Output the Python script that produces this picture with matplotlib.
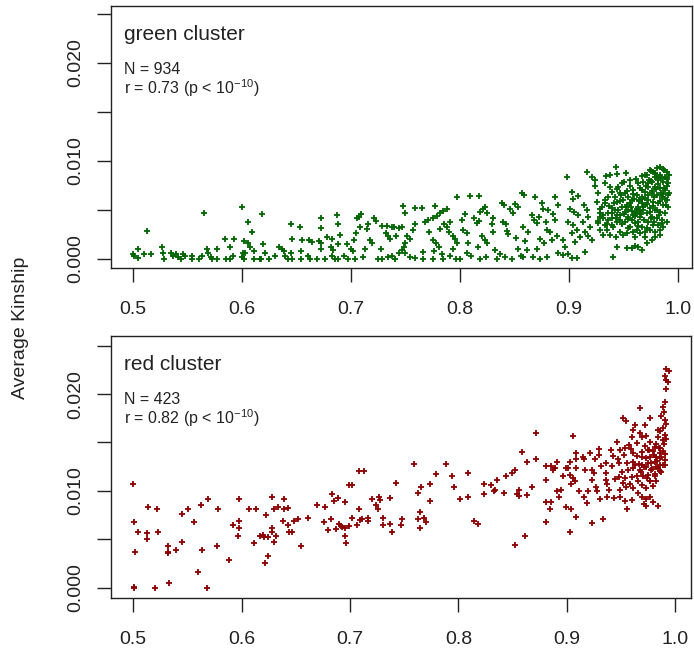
import matplotlib
matplotlib.use("Agg")
import matplotlib.pyplot as plt

# font tipo Arial come nel grafico originale
plt.rcParams['font.family'] = 'Liberation Sans'
plt.rcParams['mathtext.fontset'] = 'custom'
plt.rcParams['mathtext.rm'] = 'Liberation Sans'
plt.rcParams['mathtext.it'] = 'Liberation Sans:italic'

# ---- dati: cluster verde ----
green_x = [
    # 0.50 - 0.62
    0.4997, 0.5012, 0.5049, 0.5043, 0.5098, 0.5162, 0.5125, 0.5266,
    0.5278, 0.5287, 0.5352, 0.5367, 0.5397, 0.5413, 0.5437, 0.5459,
    0.5477, 0.5538, 0.5538, 0.5608, 0.5630, 0.5654, 0.5679, 0.5685,
    0.5715, 0.5722, 0.5770, 0.5770, 0.5847, 0.5856, 0.5893, 0.5893,
    0.5917, 0.5926, 0.6003, 0.6052, 0.6092, 0.6015, 0.6052, 0.6076,
    0.6113, 0.6006, 0.6027, 0.6000, 0.6021, 0.6107, 0.6168,
    # 0.62 - 0.75
    0.6180, 0.6195, 0.6211, 0.6174, 0.6247, 0.6302, 0.6339, 0.6364, 0.6388,
    0.6394, 0.6425, 0.6449, 0.6455, 0.6449, 0.6462, 0.6532, 0.6547, 0.6541,
    0.6541, 0.6608, 0.6614, 0.6639, 0.6623, 0.6685, 0.6706, 0.6724, 0.6724,
    0.6724, 0.6724, 0.6776, 0.6822, 0.6816, 0.6838, 0.6868, 0.6884, 0.6902,
    0.6884, 0.6822, 0.6884, 0.6939, 0.6960, 0.7000, 0.7021, 0.7030, 0.7043,
    0.7052, 0.7073, 0.7091, 0.7082, 0.7113, 0.7128, 0.7153, 0.7146, 0.7174,
    0.7189, 0.7214, 0.7226, 0.7244, 0.7275, 0.7287, 0.7327, 0.7318, 0.7342,
    0.7358, 0.7373, 0.7397, 0.7410, 0.7440, 0.7465, 0.7480, 0.7489, 0.7465,
    0.7281, 0.7342, 0.7379, 0.7403, 0.7440, 0.7036, 0.6975, 0.6761, 0.6853,
    # 0.75 - 0.88
    0.7496, 0.7588, 0.7649, 0.7771, 0.7976, 0.8092, 0.8172, 0.7817, 0.7848, 0.7884,
    0.7756, 0.7786, 0.7710, 0.7679, 0.7588, 0.7572, 0.7511, 0.7542, 0.7496, 0.7496,
    0.7542, 0.7588, 0.7658, 0.7664, 0.7719, 0.7756, 0.7780, 0.7811, 0.7762, 0.7832,
    0.7848, 0.7817, 0.7854, 0.7878, 0.7909, 0.7903, 0.7939, 0.7955, 0.7970, 0.7933,
    0.7909, 0.7964, 0.8016, 0.8046, 0.8031, 0.8062, 0.8077, 0.8062, 0.8098, 0.8129,
    0.8153, 0.8178, 0.8184, 0.8208, 0.8230, 0.8245, 0.8199, 0.8230, 0.8251, 0.8169,
    0.8184, 0.8239, 0.8291, 0.8300, 0.8306, 0.8322, 0.8367, 0.8337, 0.8383, 0.8404,
    0.8392, 0.8422, 0.8429, 0.8444, 0.8459, 0.8490, 0.8505, 0.8536, 0.8566, 0.8588,
    0.8514, 0.8536, 0.8557, 0.8582, 0.8612, 0.8597, 0.8575, 0.8627, 0.8658, 0.8689,
    0.8679, 0.8710, 0.8728, 0.8750, 0.8759, 0.8789, 0.8734, 0.8771, 0.8802, 0.8710,
    0.8673, 0.8796, 0.8734, 0.8474, 0.8413, 0.8000, 0.7756,
    # 0.88 - 0.99
    0.8979, 0.9162, 0.9214, 0.9239, 0.9428, 0.9376, 0.9437, 0.9520, 0.9337, 0.8872,
    0.8902, 0.8811, 0.8856, 0.8872, 0.8826, 0.8887, 0.8841, 0.8948, 0.8963, 0.8902,
    0.8948, 0.8994, 0.9025, 0.9070, 0.9147, 0.9031, 0.9040, 0.9086, 0.9009, 0.9049,
    0.9086, 0.8994, 0.9040, 0.9070, 0.9025, 0.9101, 0.9055, 0.9141, 0.9162, 0.9177,
    0.9132, 0.9193, 0.9147, 0.9171, 0.9208, 0.9239, 0.9269, 0.9254, 0.9300, 0.9285,
    0.9315, 0.9269, 0.9330, 0.9285, 0.9346, 0.9392, 0.9315, 0.9376, 0.9428, 0.9407,
    0.9437, 0.9407, 0.9437, 0.9529, 0.9575, 0.9606, 0.9636, 0.9667, 0.9713, 0.9758,
    0.9789, 0.9835, 0.9453, 0.9483, 0.9468, 0.9499, 0.9483, 0.9514, 0.9468, 0.9544,
    0.9514, 0.9560, 0.9590, 0.9529, 0.9606, 0.9575, 0.9590, 0.9560, 0.9621, 0.9636,
    0.9606, 0.9651, 0.9636, 0.9667, 0.9697, 0.9651, 0.9697, 0.9682, 0.9713, 0.9743,
    0.9774, 0.9804, 0.9835, 0.9865, 0.9896, 0.9918, 0.9881, 0.9835, 0.9789, 0.9820,
    0.9865, 0.9911, 0.9758, 0.9728, 0.9789, 0.9835, 0.9881, 0.9918, 0.9697, 0.9758,
    0.9804, 0.9850, 0.9896, 0.9728, 0.9774, 0.9820, 0.9865, 0.9911, 0.9697, 0.9743,
    0.9789, 0.9835, 0.9881, 0.9713, 0.9758, 0.9804, 0.9850, 0.9896, 0.9728, 0.9774,
    0.9820, 0.9865, 0.9743, 0.9789, 0.9835, 0.9392, 0.9422, 0.9361, 0.9437, 0.9392,
    0.9361, 0.9468, 0.9285, 0.9330, 0.9361, 0.9392, 0.9422, 0.9437, 0.9376, 0.9330,
    0.9529, 0.9544, 0.9575, 0.9606, 0.9538, 0.9636, 0.9651, 0.9667, 0.9667, 0.9682,
    0.9514, 0.9544, 0.9569, 0.9590, 0.9621, 0.9499, 0.9468,
]
green_y = [
    # 0.50 - 0.62
    0.00051, 0.00030, 0.00098, 0.00013, 0.00054, 0.00054, 0.00289, 0.00126,
    0.00058, 0.00003, 0.00064, 0.00030, 0.00051, 0.00017, 0.00003, 0.00051,
    0.00030, 0.00030, 0.00000, 0.00003, 0.00030, 0.00473, 0.00098, 0.00058,
    0.00024, 0.00000, 0.00098, 0.00003, 0.00200, 0.00003, 0.00126, 0.00003,
    0.00030, 0.00200, 0.00527, 0.00374, 0.00272, 0.00187, 0.00167, 0.00126,
    0.00085, 0.00064, 0.00064, 0.00017, 0.00003, 0.00003, 0.00003,
    # 0.62 - 0.75
    0.00459, 0.00153, 0.00064, 0.00003, 0.00003, 0.00030, 0.00126, 0.00105, 0.00085,
    0.00030, 0.00003, 0.00357, 0.00200, 0.00058, 0.00003, 0.00330, 0.00194, 0.00085,
    0.00003, 0.00030, 0.00194, 0.00177, 0.00003, 0.00003, 0.00187, 0.00422, 0.00313,
    0.00160, 0.00098, 0.00228, 0.00200, 0.00126, 0.00092, 0.00445, 0.00357, 0.00245,
    0.00153, 0.00030, 0.00003, 0.00030, 0.00153, 0.00098, 0.00078, 0.00194, 0.00262,
    0.00415, 0.00432, 0.00459, 0.00323, 0.00024, 0.00098, 0.00357, 0.00310, 0.00194,
    0.00167, 0.00415, 0.00388, 0.00003, 0.00098, 0.00337, 0.00337, 0.00262, 0.00235,
    0.00200, 0.00330, 0.00323, 0.00235, 0.00316, 0.00323, 0.00541, 0.00126, 0.00092,
    0.00003, 0.00024, 0.00030, 0.00003, 0.00058, 0.00003, 0.00003, 0.00003, 0.00003,
    # 0.75 - 0.88
    0.00473, 0.00517, 0.00517, 0.00541, 0.00629, 0.00643, 0.00643, 0.00473, 0.00493, 0.00513,
    0.00415, 0.00436, 0.00398, 0.00381, 0.00357, 0.00296, 0.00235, 0.00200, 0.00160, 0.00058,
    0.00024, 0.00007, 0.00075, 0.00003, 0.00279, 0.00194, 0.00160, 0.00126, 0.00085, 0.00051,
    0.00003, 0.00303, 0.00357, 0.00330, 0.00381, 0.00279, 0.00235, 0.00200, 0.00160, 0.00098,
    0.00030, 0.00003, 0.00398, 0.00459, 0.00296, 0.00262, 0.00160, 0.00058, 0.00030, 0.00415,
    0.00364, 0.00391, 0.00483, 0.00507, 0.00527, 0.00473, 0.00235, 0.00194, 0.00160, 0.00126,
    0.00003, 0.00024, 0.00357, 0.00415, 0.00279, 0.00092, 0.00051, 0.00003, 0.00575, 0.00551,
    0.00381, 0.00357, 0.00289, 0.00255, 0.00507, 0.00466, 0.00561, 0.00527, 0.00670, 0.00653,
    0.00211, 0.00098, 0.00030, 0.00024, 0.00092, 0.00187, 0.00330, 0.00279, 0.00449, 0.00636,
    0.00398, 0.00364, 0.00432, 0.00575, 0.00507, 0.00381, 0.00200, 0.00160, 0.00296, 0.00098,
    0.00024, 0.00024, 0.00003, 0.00003, 0.00024, 0.00003, 0.00003,
    # 0.88 - 0.99
    0.00833, 0.00891, 0.00840, 0.00806, 0.00935, 0.00857, 0.00867, 0.00874, 0.00847, 0.00636,
    0.00551, 0.00500, 0.00459, 0.00398, 0.00279, 0.00235, 0.00194, 0.00194, 0.00126, 0.00058,
    0.00041, 0.00051, 0.00007, 0.00007, 0.00075, 0.00687, 0.00609, 0.00643, 0.00507, 0.00483,
    0.00449, 0.00381, 0.00347, 0.00296, 0.00262, 0.00228, 0.00177, 0.00551, 0.00500, 0.00432,
    0.00381, 0.00330, 0.00279, 0.00235, 0.00194, 0.00745, 0.00670, 0.00585, 0.00534, 0.00466,
    0.00415, 0.00364, 0.00347, 0.00296, 0.00296, 0.00347, 0.00245, 0.00245, 0.00228, 0.00330,
    0.00381, 0.00024, 0.00126, 0.00109, 0.00109, 0.00133, 0.00126, 0.00092, 0.00160, 0.00194,
    0.00221, 0.00296, 0.00738, 0.00772, 0.00670, 0.00602, 0.00534, 0.00483, 0.00449, 0.00432,
    0.00381, 0.00330, 0.00279, 0.00262, 0.00228, 0.00602, 0.00704, 0.00806, 0.00653, 0.00534,
    0.00483, 0.00432, 0.00381, 0.00330, 0.00279, 0.00262, 0.00228, 0.00789, 0.00857, 0.00908,
    0.00891, 0.00925, 0.00942, 0.00915, 0.00891, 0.00857, 0.00840, 0.00857, 0.00840, 0.00806,
    0.00789, 0.00772, 0.00789, 0.00738, 0.00738, 0.00721, 0.00704, 0.00670, 0.00687, 0.00670,
    0.00653, 0.00636, 0.00602, 0.00602, 0.00585, 0.00568, 0.00551, 0.00534, 0.00551, 0.00517,
    0.00500, 0.00483, 0.00466, 0.00466, 0.00432, 0.00415, 0.00398, 0.00381, 0.00381, 0.00347,
    0.00347, 0.00330, 0.00296, 0.00279, 0.00245, 0.00517, 0.00500, 0.00466, 0.00449, 0.00415,
    0.00398, 0.00398, 0.00432, 0.00568, 0.00636, 0.00687, 0.00636, 0.00585, 0.00738, 0.00772,
    0.00551, 0.00500, 0.00398, 0.00364, 0.00313, 0.00772, 0.00721, 0.00636, 0.00568, 0.00500,
    0.00670, 0.00636, 0.00534, 0.00449, 0.00296, 0.00245, 0.00279,
]
# zona molto densa a destra (stima, punti sovrapposti)
green_dense_x = [
    0.9623, 0.9641, 0.9658, 0.9672, 0.9689, 0.9704, 0.9716, 0.9731, 0.9748, 0.9762,
    0.9777, 0.9791, 0.9806, 0.9818, 0.9833, 0.9847, 0.9859, 0.9874, 0.9886, 0.9901,
    0.9633, 0.9651, 0.9667, 0.9683, 0.9698, 0.9712, 0.9726, 0.9741, 0.9755, 0.9769,
    0.9784, 0.9798, 0.9812, 0.9826, 0.9841, 0.9855, 0.9869, 0.9882, 0.9896, 0.9909,
    0.9262, 0.9288, 0.9311, 0.9334, 0.9352, 0.9371, 0.9394, 0.9413, 0.9431, 0.9452,
    0.9471, 0.9489, 0.9506, 0.9523, 0.9541, 0.9558, 0.9574, 0.9592, 0.9609, 0.9627,
    0.9445, 0.9478, 0.9502, 0.9534, 0.9561, 0.9589, 0.9613, 0.9644, 0.9671, 0.9693,
    0.9722, 0.9749,
]
green_dense_y = [
    0.00512, 0.00588, 0.00456, 0.00613, 0.00397, 0.00744, 0.00562, 0.00801, 0.00421, 0.00695,
    0.00631, 0.00877, 0.00504, 0.00768, 0.00589, 0.00824, 0.00662, 0.00728, 0.00548, 0.00812,
    0.00341, 0.00488, 0.00705, 0.00529, 0.00862, 0.00318, 0.00657, 0.00477, 0.00899, 0.00539,
    0.00381, 0.00716, 0.00843, 0.00452, 0.00678, 0.00372, 0.00904, 0.00611, 0.00747, 0.00652,
    0.00384, 0.00512, 0.00448, 0.00603, 0.00357, 0.00541, 0.00472, 0.00569, 0.00421, 0.00498,
    0.00587, 0.00362, 0.00455, 0.00528, 0.00406, 0.00573, 0.00491, 0.00612, 0.00437, 0.00469,
    0.00712, 0.00648, 0.00781, 0.00695, 0.00744, 0.00668, 0.00818, 0.00597, 0.00842, 0.00623,
    0.00773, 0.00798,
]

# ---- dati: cluster rosso ----
red_x = [
    # 0.50 - 0.66
    0.4997, 0.5006, 0.5049, 0.5018, 0.5006, 0.5012, 0.5126, 0.5126, 0.5141, 0.5218,
    0.5233, 0.5203, 0.5319, 0.5319, 0.5325, 0.5399, 0.5335, 0.5448, 0.5448, 0.5503,
    0.5565, 0.5626, 0.5694, 0.5632, 0.5596, 0.5682, 0.5774, 0.5786, 0.5888, 0.5918,
    0.5980, 0.5980, 0.5980, 0.5971, 0.6072, 0.6136, 0.6112, 0.6173, 0.6195, 0.6210,
    0.6241, 0.6226, 0.6278, 0.6278, 0.6278, 0.6296, 0.6318, 0.6302, 0.6333, 0.6241,
    0.6217, 0.6382, 0.6395, 0.6395, 0.6431, 0.6425, 0.6441, 0.6462, 0.6487, 0.6524,
    0.6548, 0.6616,
    # 0.66 - 0.84
    0.6693, 0.6769, 0.6757, 0.6825, 0.6794, 0.6837, 0.6849, 0.6886, 0.6868, 0.6898,
    0.6917, 0.6929, 0.6954, 0.6954, 0.6966, 0.6954, 0.6991, 0.7015, 0.6991, 0.7021,
    0.7061, 0.7083, 0.7092, 0.7113, 0.7083, 0.7132, 0.7163, 0.7163, 0.7199, 0.7236,
    0.7261, 0.7267, 0.7276, 0.7304, 0.7304, 0.7368, 0.7368, 0.7390, 0.7421, 0.7476,
    0.7470, 0.7587, 0.7630, 0.7654, 0.7648, 0.7630, 0.7642, 0.7679, 0.7703, 0.7740,
    0.7740, 0.7795, 0.7888, 0.7937, 0.7961, 0.8017, 0.8090, 0.8090, 0.8146, 0.8183,
    0.8238, 0.8238, 0.8299, 0.8324, 0.8336, 0.8352, 0.8416,
    # 0.84 - 0.95
    0.8714, 0.9052, 0.8582, 0.8714, 0.8634, 0.8443, 0.8493, 0.8520, 0.8542, 0.8560,
    0.8554, 0.8634, 0.8674, 0.8806, 0.8806, 0.8858, 0.8874, 0.8910, 0.8889, 0.8966,
    0.8990, 0.9012, 0.9027, 0.9082, 0.9088, 0.9082, 0.9033, 0.9052, 0.9073, 0.9042,
    0.8910, 0.8950, 0.8929, 0.8806, 0.8858, 0.8843, 0.8806, 0.8990, 0.9042, 0.9082,
    0.9033, 0.9113, 0.9150, 0.9156, 0.9165, 0.9196, 0.9156, 0.9187, 0.9211, 0.9236,
    0.9248, 0.9257, 0.9236, 0.9267, 0.9279, 0.9297, 0.9297, 0.9319, 0.9304, 0.9236,
    0.9334, 0.9359, 0.9359, 0.9359, 0.9371, 0.9390, 0.9371, 0.9411, 0.9426, 0.9420,
    0.9442, 0.9433, 0.9463, 0.9473, 0.9482, 0.8612, 0.8520,
    # 0.95 - 0.995
    0.9918, 0.9943, 0.9903, 0.9918, 0.9934, 0.9918, 0.9903, 0.9882, 0.9894, 0.9872,
    0.9903, 0.9912, 0.9888, 0.9857, 0.9903, 0.9918, 0.9882, 0.9842, 0.9673, 0.9513,
    0.9544, 0.9765, 0.9719, 0.9627, 0.9611, 0.9673, 0.9688, 0.9734, 0.9596, 0.9765,
    0.9826, 0.9811, 0.9857, 0.9888, 0.9796, 0.9749, 0.9719, 0.9642, 0.9574, 0.9534,
    0.9587, 0.9488, 0.9525, 0.9611, 0.9648, 0.9697, 0.9765, 0.9826, 0.9863, 0.9903,
    0.9811, 0.9749, 0.9688, 0.9627, 0.9611, 0.9550, 0.9504, 0.9565, 0.9611, 0.9673,
    0.9734, 0.9780, 0.9842, 0.9872, 0.9811, 0.9749, 0.9703, 0.9642, 0.9596, 0.9534,
    0.9482, 0.9513, 0.9580, 0.9657, 0.9697, 0.9765, 0.9826, 0.9796, 0.9734, 0.9611,
    0.9544, 0.9488, 0.9534, 0.9596, 0.9734, 0.9765, 0.9796, 0.9710, 0.9728, 0.9842,
    0.9556, 0.9657, 0.9688, 0.9488, 0.9857, 0.9903, 0.9857, 0.9842,
]
red_y = [
    # 0.50 - 0.66
    0.01072, 0.00679, 0.00576, 0.00372, 0.00004, 0.00000, 0.00562, 0.00507, 0.00838, 0.00810,
    0.00576, 0.00000, 0.00431, 0.00372, 0.00362, 0.00386, 0.00052, 0.00476, 0.00762, 0.00810,
    0.00679, 0.00852, 0.00914, 0.00386, 0.00166, 0.00000, 0.00431, 0.00810, 0.00286, 0.00648,
    0.00914, 0.00693, 0.00617, 0.00534, 0.00810, 0.00810, 0.00459, 0.00534, 0.00545, 0.00528,
    0.00521, 0.00752, 0.00941, 0.00614, 0.00579, 0.00476, 0.00534, 0.00810, 0.00838, 0.00328,
    0.00252, 0.00693, 0.00914, 0.00810, 0.00821, 0.00648, 0.00576, 0.00576, 0.00693, 0.00707,
    0.00431, 0.00721,
    # 0.66 - 0.84
    0.00852, 0.00838, 0.00679, 0.00707, 0.00597, 0.00969, 0.00900, 0.00924, 0.00610, 0.00659,
    0.00638, 0.00624, 0.00617, 0.00534, 0.00459, 0.00886, 0.01058, 0.01058, 0.00638, 0.00721,
    0.00648, 0.00810, 0.00700, 0.00707, 0.01203, 0.01203, 0.00721, 0.00686, 0.00914, 0.00852,
    0.00810, 0.00941, 0.00907, 0.00721, 0.00648, 0.00924, 0.00659, 0.00576, 0.01086, 0.00707,
    0.00648, 0.01279, 0.00983, 0.01038, 0.00783, 0.00707, 0.00617, 0.00721, 0.00679, 0.01072,
    0.00896, 0.01176, 0.01279, 0.01155, 0.01038, 0.00914, 0.01189, 0.00941, 0.00693, 0.00659,
    0.01072, 0.00969, 0.01058, 0.01003, 0.01010, 0.01113, 0.00983,
    # 0.84 - 0.95
    0.01596, 0.01568, 0.01406, 0.01327, 0.01303, 0.01155, 0.01182, 0.01217, 0.00969, 0.01010,
    0.00948, 0.00955, 0.01045, 0.01258, 0.01114, 0.01258, 0.01217, 0.01303, 0.01234, 0.01155,
    0.01234, 0.01234, 0.01303, 0.01234, 0.01389, 0.01327, 0.01165, 0.01131, 0.01107, 0.01072,
    0.01003, 0.01010, 0.00941, 0.00890, 0.00890, 0.00810, 0.00683, 0.00838, 0.00810, 0.00734,
    0.00579, 0.01003, 0.01355, 0.01327, 0.01217, 0.01003, 0.00941, 0.00872, 0.01396, 0.01217,
    0.01189, 0.01327, 0.01114, 0.01045, 0.01003, 0.01430, 0.01372, 0.01258, 0.00914, 0.00666,
    0.00707, 0.01286, 0.01189, 0.01114, 0.01072, 0.01010, 0.00941, 0.01424, 0.01362, 0.01258,
    0.01120, 0.00924, 0.01500, 0.01327, 0.01293, 0.00534, 0.00441,
    # 0.95 - 0.995
    0.02258, 0.02234, 0.02189, 0.02148, 0.02120, 0.02051, 0.01913, 0.01865, 0.01810, 0.01769,
    0.01734, 0.01693, 0.01648, 0.01614, 0.01579, 0.01534, 0.01527, 0.01555, 0.01855, 0.01751,
    0.01727, 0.01751, 0.01682, 0.01682, 0.01631, 0.01603, 0.01555, 0.01569, 0.01555, 0.01510,
    0.01486, 0.01451, 0.01441, 0.01407, 0.01407, 0.01424, 0.01465, 0.01493, 0.01476, 0.01441,
    0.01431, 0.01424, 0.01372, 0.01389, 0.01362, 0.01348, 0.01355, 0.01355, 0.01338, 0.01320,
    0.01303, 0.01293, 0.01269, 0.01269, 0.01303, 0.01286, 0.01200, 0.01217, 0.01234, 0.01217,
    0.01245, 0.01217, 0.01234, 0.01190, 0.01176, 0.01166, 0.01155, 0.01155, 0.01141, 0.01131,
    0.01141, 0.01086, 0.01072, 0.01097, 0.01062, 0.01107, 0.01097, 0.01052, 0.01028, 0.01028,
    0.01038, 0.01010, 0.00900, 0.00907, 0.00914, 0.00941, 0.00890, 0.00866, 0.00845, 0.00845,
    0.00810, 0.00983, 0.00941, 0.00941, 0.01269, 0.01269, 0.01389, 0.01631,
]
# zona densa del cluster rosso (stima)
red_dense_x = [
    0.9662, 0.9679, 0.9694, 0.9711, 0.9727, 0.9741, 0.9756, 0.9772, 0.9787, 0.9801,
    0.9816, 0.9831, 0.9845, 0.9858, 0.9872, 0.9886, 0.9897, 0.9908, 0.9768, 0.9823,
]
red_dense_y = [
    0.01281, 0.01193, 0.01402, 0.01247, 0.01336, 0.01128, 0.01418, 0.01292, 0.01231, 0.01367,
    0.01149, 0.01312, 0.01438, 0.01206, 0.01351, 0.01267, 0.01483, 0.01379, 0.01102, 0.01243,
]

# assi e testi
x_ticks = [0.5, 0.6, 0.7, 0.8, 0.9, 1.0]
x_tick_labels = ['0.5', '0.6', '0.7', '0.8', '0.9', '1.0']
y_ticks = [0.0, 0.005, 0.010, 0.015, 0.020, 0.025]
y_tick_labels = ['0.000', '', '0.010', '', '0.020', '']

pannelli = [
    ('green cluster', 'N = 934', r'r = 0.73 (p < 10$^{-10}$)',
     green_x + green_dense_x, green_y + green_dense_y, '#006400'),
    ('red cluster', 'N = 423', r'r = 0.82 (p < 10$^{-10}$)',
     red_x + red_dense_x, red_y + red_dense_y, '#8B0000'),
]

fig = plt.figure(figsize=(6.94, 6.57), dpi=100)
ax_top = fig.add_axes([0.160, 0.5921, 0.837, 0.3988])
ax_bot = fig.add_axes([0.160, 0.0903, 0.835, 0.3983])
limiti = [((0.4798, 1.0128), (-0.00092, 0.02582)),
          ((0.4797, 1.0140), (-0.00103, 0.02600))]

for ax, (titolo, n_txt, r_txt, xs, ys, colore), (xl, yl) in zip([ax_top, ax_bot], pannelli, limiti):
    ax.scatter(xs, ys, marker='+', s=13, c=colore, linewidths=1.3)
    ax.set_xlim(*xl)
    ax.set_ylim(*yl)

    ax.set_xticks(x_ticks)
    ax.set_xticklabels(x_tick_labels)
    ax.set_yticks(y_ticks)
    ax.set_yticklabels(y_tick_labels, rotation=90, va='center')

    ax.tick_params(axis='both', direction='out', length=10, width=1,
                   labelsize=14, colors='#222222')
    ax.tick_params(axis='x', pad=14)
    ax.tick_params(axis='y', pad=9)
    for s in ax.spines.values():
        s.set_linewidth(1.0)
        s.set_color('#222222')

    ax.text(0.022, 0.870, titolo, transform=ax.transAxes, fontsize=15,
            va='baseline', color='#222222')
    ax.text(0.022, 0.742, n_txt, transform=ax.transAxes, fontsize=11.5,
            va='baseline', color='#222222')
    ax.text(0.022, 0.664, r_txt, transform=ax.transAxes, fontsize=11.5,
            va='baseline', color='#222222')

fig.text(0.029, 0.5008, 'Average Kinship', rotation=90, va='center', ha='center',
         fontsize=14, color='#222222')

fig.savefig('out.png', dpi=100)
